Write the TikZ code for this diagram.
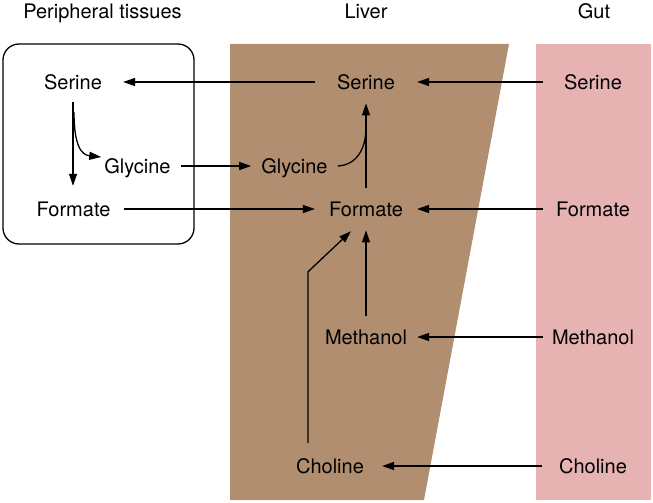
\documentclass[tikz,border=0pt]{standalone}
\usepackage{fontspec}
\setmainfont{TeX Gyre Heros}
\usetikzlibrary{arrows.meta,calc}
\definecolor{liverc}{RGB}{176,142,111}
\definecolor{gutc}{RGB}{230,178,178}
\tikzset{
  lbl/.style={inner sep=0pt, text height=14.4pt, text depth=0pt, font=\fontsize{20}{24}\selectfont},
  ttl/.style={inner sep=0pt, text height=14.4pt, text depth=0pt, font=\fontsize{20}{24}\selectfont},
  arr/.style={line width=1.3pt, -{Triangle[length=12pt,width=8pt]}},
  ln/.style={line width=1.3pt}
}
\begin{document}
\begin{tikzpicture}[x=1pt,y=-1pt]
\useasboundingbox (0,0) rectangle (653,503);
% regions
\fill[liverc] (230,44) -- (509,44) -- (424,500) -- (230,500) -- cycle;
\fill[gutc] (536,44) rectangle (651,500);
\draw[ln, rounded corners=16pt] (3,44) rectangle (194,244);
% titles
\node[ttl] (tper) at (102.5,11) {Peripheral tissues};
\node[ttl] (tliv) at (366,11) {Liver};
\node[ttl] (tgut) at (594,11) {Gut};
% peripheral
\node[lbl] (pser) at (73,82) {Serine};
\node[lbl] (pgly) at (137.5,166) {Glycine};
\node[lbl] (pform) at (73.5,209) {Formate};
% liver
\node[lbl] (lser) at (366,82) {Serine};
\node[lbl] (lgly) at (294.5,166) {Glycine};
\node[lbl] (lform) at (366,209) {Formate};
\node[lbl] (lmeth) at (366,337) {Methanol};
\node[lbl] (lchol) at (330,466) {Choline};
% gut
\node[lbl] (gser) at (593,82) {Serine};
\node[lbl] (gform) at (593,209) {Formate};
\node[lbl] (gmeth) at (593,337) {Methanol};
\node[lbl] (gchol) at (593,466) {Choline};
% horizontal arrows
\draw[arr, shorten <=22pt, shorten >=21pt] (lser.west) -- (pser.east);
\draw[arr, shorten <=21pt, shorten >=22pt] (gser.west) -- (lser.east);
\draw[arr, shorten <=10pt, shorten >=10pt] (pgly.east) -- (lgly.west);
\draw[arr, shorten <=13pt, shorten >=14pt] (pform.east) -- (lform.west);
\draw[arr, shorten <=13pt, shorten >=14pt] (gform.west) -- (lform.east);
\draw[arr, shorten <=9pt, shorten >=10pt] (gmeth.west) -- (lmeth.east);
\draw[arr, shorten <=17pt, shorten >=18pt] (gchol.west) -- (lchol.east);
% liver vertical arrows
\draw[arr, shorten <=14pt, shorten >=14pt] (lform.north) -- (lser.south);
\draw[arr, shorten <=14pt, shorten >=14pt] (lmeth.north) -- (lform.south);
\draw[arr] ([xshift=-22pt,yshift=15.8pt]lchol.north) -- ++(0,-171) -- ([xshift=-15pt,yshift=-14.8pt]lform.south);
\draw[ln] ([xshift=10pt]lgly.east) .. controls +(18,-1) and +(0,23) .. ([yshift=-37.8pt]lser.south);
% peripheral arrows
\draw[arr, shorten <=12.8pt, shorten >=15.8pt] (pser.south) -- (pser.south |- pform.north);
\draw[arr] ([xshift=1pt,yshift=-22.8pt]pser.south) .. controls +(0,33) and +(-20,-2) .. ([xshift=-3pt,yshift=9pt]pgly.west);
\end{tikzpicture}
\end{document}
